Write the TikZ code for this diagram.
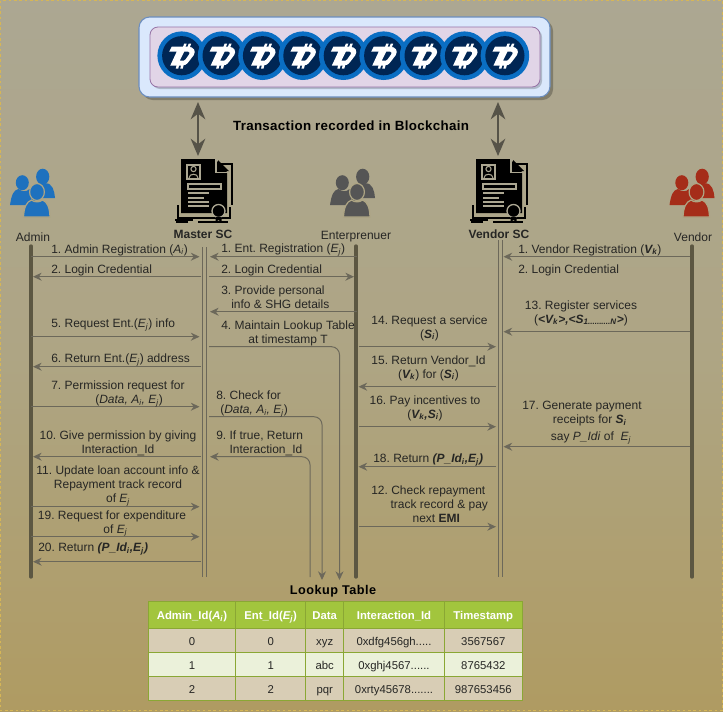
\documentclass[tikz,border=0pt]{standalone}
\usepackage{fontspec}
\setmainfont{Liberation Sans}
\usepackage{tikz}
\usetikzlibrary{arrows.meta}
\frenchspacing

\definecolor{bgtop}{RGB}{172,167,146}
\definecolor{bgbot}{RGB}{175,155,98}
\definecolor{bgmid}{RGB}{174,165,132}
\definecolor{edgegold}{RGB}{214,182,86}
\definecolor{msgcol}{RGB}{108,104,90}
\definecolor{lifecol}{RGB}{92,87,66}
\definecolor{txtcol}{RGB}{38,38,36}
\definecolor{coinblue}{RGB}{10,110,195}
\definecolor{coinnavy}{RGB}{0,38,84}
\definecolor{hdrgreen}{RGB}{162,197,61}
\definecolor{rowtan}{RGB}{216,205,181}
\definecolor{rowlight}{RGB}{235,241,218}
\definecolor{chainblue}{RGB}{218,232,252}
\definecolor{chainedge}{RGB}{108,142,191}
\definecolor{slotpink}{RGB}{225,213,231}
\definecolor{slotedge}{RGB}{150,115,166}
\definecolor{adminblue}{RGB}{30,113,190}
\definecolor{entgray}{RGB}{85,85,85}
\definecolor{vendred}{RGB}{165,45,25}

\newcommand{\sym}[2]{\textit{#1\textsubscript{#2}}}
\newcommand{\bsym}[2]{\textbf{\textit{#1\textsubscript{#2}}}}
\newcommand{\fivedots}{.....}

\tikzset{
  lbl/.style={text=txtcol,inner sep=0pt,align=left,anchor=west,
    font=\fontsize{9}{10.5}\selectfont},
  lblc/.style={lbl,align=center,anchor=center},
  head/.style={text=txtcol,inner sep=0pt,font=\fontsize{9}{10.5}\selectfont},
  headb/.style={head,font=\fontsize{9}{10.5}\selectfont\bfseries},
  spaced/.style={text=black,inner sep=0pt,font=\fontsize{10}{12}\selectfont\bfseries\addfontfeature{LetterSpace=2.5}},
  msg/.style={draw=msgcol,line width=.75pt,-{Stealth[length=6.5pt,width=6pt]}},
  life/.style={draw=lifecol,line width=2.5pt,line cap=round},
  rail/.style={draw=msgcol,line width=.75pt},
  tall/.style={draw=msgcol!80!black,line width=1pt,
    {Stealth[length=13pt,width=11pt]}-{Stealth[length=13pt,width=11pt]}},
  cellb/.style={draw=hdrgreen!85!black,line width=.9pt},
  celltxt/.style={text=txtcol,inner sep=0pt,text height=1.6ex,text depth=.3ex,font=\fontsize{8.5}{10}\selectfont},
  hdrtxt/.style={text=white,inner sep=0pt,text height=1.6ex,text depth=.3ex,font=\fontsize{8.5}{10}\selectfont\bfseries},
  coin/.pic={
    \fill[coinblue] (0,0) circle (24.3);
    \fill[coinnavy] (0,0) circle (19.6);
    \fill[white,even odd rule]
      (-10,-9) -- (6,-9) .. controls (12.5,-9) and (14.5,-4.5) .. (12,-.5)
      -- (7,6) .. controls (5,9) and (2.5,10) .. (-1,10) -- (-11.5,10)
      -- (-5,-4) -- (-12.5,-4) -- cycle
      (2.5,-4) -- (6.5,-4) .. controls (8,-4) and (8,-2.5) .. (7.5,-1.5)
      -- (4,3.5) .. controls (3,5) and (2,5) .. (0,5) -- (-2,5) -- cycle;
    \fill[white] (1,-8) -- (2.5,-12) -- (5,-12) -- (3.5,-8) -- cycle
      (5.5,-8) -- (7,-12) -- (9.5,-12) -- (8,-8) -- cycle
      (-5,9) -- (-6,13) -- (-3.5,13) -- (-2.5,9) -- cycle
      (-.5,9) -- (-1.5,13) -- (1,13) -- (2,9) -- cycle;
  },
  people/.pic={
    \fill[#1] (10.2,-18.3) ellipse (6.6 and 8);
    \fill[#1] (3,3) .. controls (4,-8) and (8,-12) .. (13,-11.7)
      .. controls (20,-12) and (22,-4) .. (22.5,3) -- cycle;
    \fill[#1] (-10.2,-12.3) ellipse (6.5 and 7.5);
    \fill[#1] (-22.5,10) .. controls (-21,0) and (-19,-5) .. (-14,-6)
      .. controls (-10,-3) and (-6,-3) .. (-3,-6)
      .. controls (1,-5) and (3,-2) .. (4,2) -- (4,10) -- cycle;
    \fill[#1,draw=bgmid,line width=.9pt] (-9,22) .. controls (-8.5,12) and (-6,7) .. (-1,5)
      .. controls (2,7.5) and (7,7.5) .. (10,5)
      .. controls (15,7) and (17,12) .. (17.5,22) -- cycle;
    \fill[#1,draw=bgmid,line width=.9pt] (4.5,-3) ellipse (7.4 and 8.5);
  },
  scdoc/.pic={
    \draw[black,line width=1.3pt] (-25,18) -- (-25,31) -- (27,31) -- (27,20);
    \draw[black,line width=1.2pt] (-27,35) -- (-15,35) (-5,35) -- (25,35);
    \draw[black,line width=1.3pt] (-28,33) -- (-10,33);
    \draw[black,line width=1.3pt] (17,-23) -- (29,-23) -- (29,18);
    \fill[black] (-22,-28) -- (12,-28) -- (24,-15) -- (24,26) -- (-22,26) -- cycle;
    \fill[black] (15,-27) -- (26,-16) -- (15,-16) -- cycle;
    \draw[bgtop,line width=1.1pt] (13.2,-28) -- (13.2,-14.5) -- (25,-14.5);
    \draw[bgtop,line width=.9pt] (-16,-22) rectangle (-3,-8);
    \draw[bgtop,line width=.8pt] (-9.5,-18) circle (2.6);
    \draw[bgtop,line width=.8pt] (-14,-9) .. controls (-14,-14) and (-5,-14) .. (-5,-9);
    \draw[bgtop,line width=1pt] (-15,-3) rectangle (18,2);
    \draw[bgtop,line width=1pt] (-15,6) -- (6,6) (-15,11) -- (1,11)
      (-15,15) -- (6,15) (-15,19) -- (6,19);
    \fill[black,draw=bgtop,line width=1pt] (15.5,24) circle (6.5);
    \fill[black] (12.5,30) -- (18.5,30) -- (18.5,35) -- (15.5,33) -- (12.5,35) -- cycle;
  }
}

\begin{document}
\begin{tikzpicture}[x=0.75pt, y=-0.75pt]
\useasboundingbox (0,0) rectangle (723,711);
\shade[top color=bgtop, bottom color=bgbot, middle color=bgmid] (0,0) rectangle (723,711);
\draw[edgegold,line width=.75pt,dash pattern=on 2pt off 2pt] (.5,.5) rectangle (722.5,710.5);

% blockchain strip
\fill[black,opacity=.25,rounded corners=8pt] (142,20) rectangle (553,100);
\draw[draw=chainedge,fill=chainblue,line width=.8pt,rounded corners=8pt] (139,17) rectangle (550,97);
\fill[black,opacity=.2,rounded corners=6pt] (152,29) rectangle (542,89);
\draw[draw=slotedge,fill=slotpink,line width=.6pt,rounded corners=6pt] (150,27) rectangle (540,87);
\foreach \i in {0,...,8}
  \pic at (181.7+40.4*\i,55.7) {coin};

\node[spaced] (title) at (351,126) {Transaction recorded in Blockchain};

% actors
\pic at (32.5,195) {people=adminblue};
\pic at (352.5,195) {people=entgray};
\pic at (692,195) {people=vendred};
\pic at (203,187) {scdoc};
\pic at (498,187) {scdoc};

\coordinate (chainM) at (198,102);
\coordinate (docM) at (198,156);
\coordinate (chainV) at (498,102);
\coordinate (docV) at (498,156);
\draw[tall] (chainM) -- (docM);
\draw[tall] (chainV) -- (docV);

\node[head] (admin) at (33,237) {Admin};
\node[headb] (master) at (203,234) {Master SC};
\node[head] (enterp) at (356,237) {Enterprenuer};
\node[headb] (vendsc) at (499,234) {Vendor SC};
\node[head] (vendor) at (693,237) {Vendor};

% lifelines
\coordinate (adminTop) at (31,246);
\coordinate (adminEnd) at (31,577);
\coordinate (entTop) at (356,246);
\coordinate (entEnd) at (356,577);
\coordinate (vendorTop) at (692,246);
\coordinate (vendorEnd) at (692,577);
\draw[life] (adminTop) -- (adminEnd);
\draw[life] (entTop) -- (entEnd);
\draw[life] (vendorTop) -- (vendorEnd);
\coordinate (m1Top) at (202.8,247);
\coordinate (m1End) at (202.8,577);
\coordinate (m2Top) at (206.8,247);
\coordinate (m2End) at (206.8,577);
\coordinate (v1Top) at (498.5,240);
\coordinate (v1End) at (498.5,577);
\coordinate (v2Top) at (502.5,240);
\coordinate (v2End) at (502.5,577);
\draw[rail] (m1Top) -- (m1End);
\draw[rail] (m2Top) -- (m2End);
\draw[rail] (v1Top) -- (v1End);
\draw[rail] (v2Top) -- (v2End);

% message rows: named ends on every lifeline
\foreach \y in {256,276,311,331,336,346,366,386,406,416,426,446,456,466,506,526,536,561}{
  \coordinate (A\y) at (31,\y.7);
  \coordinate (AI\y) at (33,\y.7);
  \coordinate (ML\y) at (199.5,\y.7);
  \coordinate (MS\y) at (201,\y.7);
  \coordinate (MR\y) at (209,\y.7);
  \coordinate (MT\y) at (210,\y.7);
  \coordinate (EI\y) at (354,\y.7);
  \coordinate (E\y) at (357,\y.7);
  \coordinate (EO\y) at (358.5,\y.7);
  \coordinate (VL\y) at (496,\y.7);
  \coordinate (VR\y) at (503.5,\y.7);
  \coordinate (V\y) at (690,\y.7);
}

% Admin <-> Master SC
\draw[msg] (A256) -- (ML256);
\draw[msg] (MS276) -- (AI276);
\draw[msg] (A336) -- (ML336);
\draw[msg] (MS366) -- (AI366);
\draw[msg] (A406) -- (ML406);
\draw[msg] (MS456) -- (AI456);
\draw[msg] (A506) -- (ML506);
\draw[msg] (A536) -- (ML536);
\draw[msg] (MS561) -- (AI561);

\node[lbl] (l1) at (51,250) {1. Admin Registration (\sym{A}{i})};
\node[lbl] (l2) at (51,270) {2. Login Credential};
\node[lbl] (l5) at (51,325) {5. Request Ent.(\sym{E}{j}) info};
\node[lbl] (l6) at (51,360) {6. Return Ent.(\sym{E}{j}) address};
\node[lbl] (l7) at (51,394) {7. Permission request for\\\hspace*{33pt}(\textit{Data, A\textsubscript{i}, E\textsubscript{j}})};
\node[lblc] (l10) at (118,443) {10. Give permission by giving\\Interaction\_Id};
\node[lblc] (l11) at (118,486) {11. Update loan account info \&\\Repayment track record\\of \sym{E}{j}};
\node[lblc] (l19) at (112,523.5) {19. Request for expenditure\\\hspace*{5pt}of \sym{E}{j}};
\node[lbl] (l20) at (38,549) {20. Return \textbf{\textit{(P\_Id\textsubscript{i},E\textsubscript{j})}}};

% Enterprenuer <-> Master SC
\draw[msg] (E256) -- (MT256);
\draw[msg] (MR276) -- (EI276);
\draw[msg] (E311) -- (MT311);
\coordinate (lookA) at (339.5,580);
\coordinate (lookB) at (322,580);
\coordinate (lookC) at (310,577);
\draw[msg,rounded corners=6pt] (MR346) -| (lookA);
\draw[msg,rounded corners=6pt] (MR416) -| (lookB);
\draw[msg,rounded corners=6pt] (lookC) |- (MT456);

\node[lbl] (r1) at (221,250) {1. Ent. Registration (\sym{E}{j})};
\node[lbl] (r2) at (221,270) {2. Login Credential};
\node[lbl] (r3) at (221,297) {3. Provide personal\\\hspace*{7.5pt}info \& SHG details};
\node[lblc] (r4) at (288,333) {4. Maintain Lookup Table\\at timestamp T};
\node[lbl] (r8) at (216,404) {8. Check for\\\hspace*{3pt}(\textit{Data, A\textsubscript{i}, E\textsubscript{j}})};
\node[lbl] (r9) at (216,443) {9. If true, Return\\\hspace*{10pt}Interaction\_Id};

% Enterprenuer <-> Vendor SC
\draw[msg] (EO346) -- (VL346);
\draw[msg] (VL386) -- (EO386);
\draw[msg] (EO426) -- (VL426);
\draw[msg] (VL466) -- (EO466);
\draw[msg] (EO526) -- (VL526);

\node[lblc] (e14) at (429.5,328) {14. Request a service\\(\bsym{S}{i})};
\node[lblc] (e15) at (428.5,368) {15. Return Vendor\_Id\\(\bsym{V}{k}) for (\bsym{S}{i})};
\node[lblc] (e16) at (425,408) {16. Pay incentives to\\(\textbf{\textit{V\textsubscript{k},S\textsubscript{i}}})};
\node[lbl] (e18) at (373,460) {18. Return \textbf{\textit{(P\_Id\textsubscript{i},E\textsubscript{j})}}};
\node[lbl] (e12) at (371,504) {12. Check repayment\\\hspace*{14.5pt}track record \& pay\\\hspace*{31pt}next \textbf{EMI}};

% Vendor -> Vendor SC
\draw[msg] (V256) -- (VR256);
\draw[msg] (V331) -- (VR331);
\draw[msg] (V446) -- (VR446);

\node[lbl] (v1) at (518,250) {1. Vendor Registration (\bsym{V}{k})};
\node[lbl] (v2) at (518,270) {2. Login Credential};
\node[lblc] (v13) at (581,313) {13. Register services\\(\textbf{\textit{<V\textsubscript{k}>,<S\textsubscript{1\fivedots\fivedots N}>}})};
\node[lbl] (v17) at (522,422.5) {17. Generate payment\\\hspace*{23pt}receipts for \bsym{S}{i}\\[2pt]\hspace*{21.5pt}say \textit{P\_Idi} of\ \ \sym{E}{j}};

% lookup table
\node[spaced,font=\fontsize{9.5}{11}\selectfont\bfseries\addfontfeature{LetterSpace=4}] (looktitle) at (333,591) {Lookup Table};
\foreach \xa/\xb/\hd/\ca/\cb/\cc [count=\i] in {
  148.3/235.7/{Admin\_Id(\textit{A\textsubscript{i}})}/0/1/2,
  235.7/305.7/{Ent\_Id(\textit{E\textsubscript{j}})}/0/1/2,
  305.7/343.7/Data/xyz/abc/pqr,
  343.7/444.3/Interaction\_Id/0xdfg456gh\fivedots/0xghj4567\fivedots./0xrty45678\fivedots..,
  444.3/522.3/Timestamp/3567567/8765432/987653456}{
  \draw[cellb,fill=hdrgreen] (\xa,601.7) rectangle node[hdrtxt] (h\i) {\hd} (\xb,628.7);
  \draw[cellb,fill=rowtan] (\xa,628.7) rectangle node[celltxt] (p\i) {\ca} (\xb,652.3);
  \draw[cellb,fill=rowlight] (\xa,652.3) rectangle node[celltxt] (q\i) {\cb} (\xb,676.7);
  \draw[cellb,fill=rowtan] (\xa,676.7) rectangle node[celltxt] (s\i) {\cc} (\xb,700.7);
}

\end{tikzpicture}
\end{document}
